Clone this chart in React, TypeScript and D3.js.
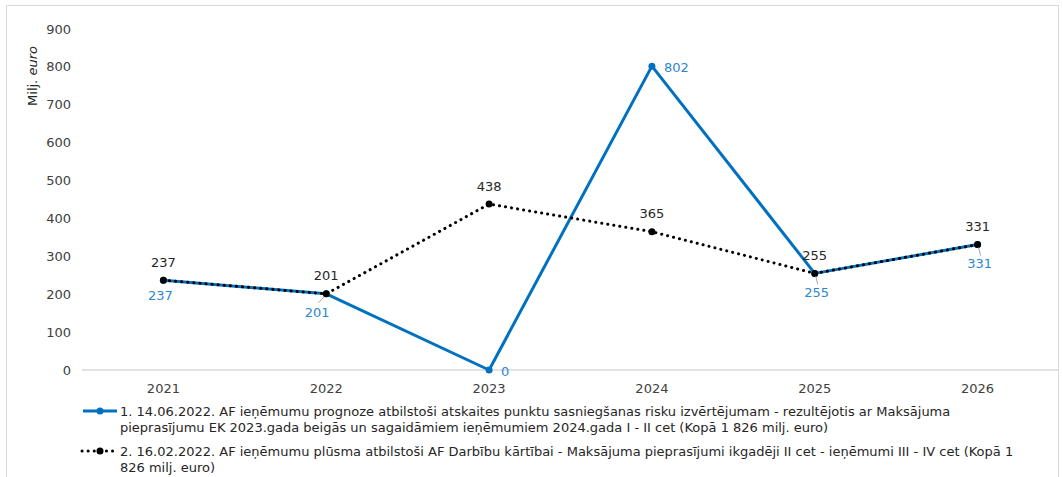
import { useRef, useEffect, RefObject } from 'react';
import * as d3 from 'd3';

const years: string[] = ['2021', '2022', '2023', '2024', '2025', '2026'];
const series1: number[] = [237, 201, 0, 802, 255, 331];
const series2: number[] = [237, 201, 438, 365, 255, 331];
const yTicks: number[] = [0, 100, 200, 300, 400, 500, 600, 700, 800, 900];
const legend1: string[] = [
  '1. 14.06.2022. AF ieņēmumu prognoze atbilstoši atskaites punktu sasniegšanas risku izvērtējumam - rezultējotis ar Maksājuma',
  'pieprasījumu EK 2023.gada beigās un sagaidāmiem ieņēmumiem 2024.gada I - II cet (Kopā 1 826 milj. euro)',
];
const legend2: string[] = [
  '2. 16.02.2022. AF ieņēmumu plūsma atbilstoši AF Darbību kārtībai - Maksājuma pieprasījumi ikgadēji II cet - ieņēmumi III - IV cet (Kopā 1',
  '826 milj. euro)',
];
// label placement for series 1: 'below' or 'right'
const labelPos1: string[] = ['below', 'below', 'right', 'right', 'below', 'below'];

const App = () => {
  const svgRef: RefObject<SVGSVGElement> = useRef(null);

  useEffect(() => {
    const width = 1063;
    const height = 477;
    const blue = '#0070C0';
    const blueText = '#2E86CF';
    const font = '"DejaVu Sans", Verdana, sans-serif';

    const svg = d3
      .select(svgRef.current)
      .attr('width', width)
      .attr('height', height)
      .style('font-family', font);
    svg.selectAll('*').remove();

    svg
      .append('rect')
      .attr('x', 6.5)
      .attr('y', 5.5)
      .attr('width', 1052)
      .attr('height', 490)
      .attr('fill', 'white')
      .attr('stroke', '#d9d9d9');

    const x = d3.scaleBand().domain(years).range([82, 1059]);
    const y = d3.scaleLinear().domain([0, 900]).range([370, 29]);
    const cx = (d: string) => (x(d) as number) + x.bandwidth() / 2;

    // baseline
    svg
      .append('line')
      .attr('x1', 82)
      .attr('x2', 1059)
      .attr('y1', y(0))
      .attr('y2', y(0))
      .attr('stroke', '#d9d9d9')
      .attr('stroke-width', 1.5);

    // y ticks
    svg
      .append('g')
      .selectAll('text')
      .data(yTicks)
      .join('text')
      .attr('x', 71)
      .attr('y', (d) => y(d))
      .attr('dy', '0.35em')
      .attr('text-anchor', 'end')
      .attr('font-size', 13)
      .attr('fill', '#404040')
      .text((d) => d);

    // x labels
    svg
      .append('g')
      .selectAll('text')
      .data(years)
      .join('text')
      .attr('x', (d) => cx(d))
      .attr('y', 388)
      .attr('dy', '0.35em')
      .attr('text-anchor', 'middle')
      .attr('font-size', 13)
      .attr('fill', '#404040')
      .text((d) => d);

    // y title
    const title = svg
      .append('text')
      .attr('transform', 'translate(37,76) rotate(-90)')
      .attr('text-anchor', 'middle')
      .attr('font-size', 13)
      .attr('fill', '#262626');
    title.append('tspan').text('Milj. ');
    title.append('tspan').attr('font-style', 'italic').text('euro');

    const line = d3
      .line<number>()
      .x((_, i) => cx(years[i]))
      .y((d) => y(d));

    // series 1 (blue)
    svg
      .append('path')
      .datum(series1)
      .attr('d', line)
      .attr('fill', 'none')
      .attr('stroke', blue)
      .attr('stroke-width', 3)
      .attr('stroke-linejoin', 'round');
    svg
      .append('g')
      .selectAll('circle')
      .data(series1)
      .join('circle')
      .attr('cx', (_, i) => cx(years[i]))
      .attr('cy', (d) => y(d))
      .attr('r', 3.5)
      .attr('fill', blue);

    // series 2 (black dotted)
    svg
      .append('path')
      .datum(series2)
      .attr('d', line)
      .attr('fill', 'none')
      .attr('stroke', '#000')
      .attr('stroke-width', 3)
      .attr('stroke-linecap', 'round')
      .attr('stroke-dasharray', '0.1 6');
    svg
      .append('g')
      .selectAll('circle')
      .data(series2)
      .join('circle')
      .attr('cx', (_, i) => cx(years[i]))
      .attr('cy', (d) => y(d))
      .attr('r', 3.5)
      .attr('fill', '#000');

    // leader lines for blue labels
    svg
      .append('g')
      .selectAll('line')
      .data(series1.map((v, i) => ({ v, i })).filter((d) => d.i >= 1 && labelPos1[d.i] === 'below'))
      .join('line')
      .attr('x1', (d) => cx(years[d.i]) + (d.i === 1 ? -2 : 1))
      .attr('y1', (d) => y(d.v) + 3)
      .attr('x2', (d) => cx(years[d.i]) + (d.i === 1 ? -8 : 3))
      .attr('y2', (d) => y(d.v) + (d.i === 1 ? 9 : 11))
      .attr('stroke', '#a6a6a6')
      .attr('stroke-width', 1);

    // blue labels
    svg
      .append('g')
      .selectAll('text')
      .data(series1)
      .join('text')
      .attr('x', (_, i) => (labelPos1[i] === 'right' ? cx(years[i]) + 12 : cx(years[i]) + (i === 1 ? -9 : i === 0 ? -3 : 2)))
      .attr('y', (d, i) => (labelPos1[i] === 'right' ? y(d) + 1 : y(d) + (i === 0 ? 15 : 19)))
      .attr('dy', '0.35em')
      .attr('text-anchor', (_, i) => (labelPos1[i] === 'right' ? 'start' : 'middle'))
      .attr('font-size', 13)
      .attr('fill', blueText)
      .text((d) => d);

    // black labels
    svg
      .append('g')
      .selectAll('text')
      .data(series2)
      .join('text')
      .attr('x', (_, i) => cx(years[i]))
      .attr('y', (d) => y(d) - 18)
      .attr('dy', '0.35em')
      .attr('text-anchor', 'middle')
      .attr('font-size', 13)
      .attr('fill', '#262626')
      .text((d) => d);

    // legend
    const lg = svg.append('g').attr('font-size', 13).attr('fill', '#262626');
    lg.append('line')
      .attr('x1', 83).attr('x2', 117).attr('y1', 411).attr('y2', 411)
      .attr('stroke', blue).attr('stroke-width', 3);
    lg.append('circle').attr('cx', 100).attr('cy', 411).attr('r', 3.5).attr('fill', blue);
    lg.append('line')
      .attr('x1', 82).attr('x2', 118).attr('y1', 451).attr('y2', 451)
      .attr('stroke', '#000').attr('stroke-width', 3)
      .attr('stroke-linecap', 'round').attr('stroke-dasharray', '0.1 6');
    lg.append('circle').attr('cx', 100).attr('cy', 451).attr('r', 3.5).attr('fill', '#000');

    lg.selectAll('text.l1')
      .data(legend1)
      .join('text')
      .attr('class', 'l1')
      .attr('x', 120)
      .attr('y', (_, i) => 411 + i * 16)
      .attr('dy', '0.35em')
      .text((d) => d);
    lg.selectAll('text.l2')
      .data(legend2)
      .join('text')
      .attr('class', 'l2')
      .attr('x', 120)
      .attr('y', (_, i) => 451 + i * 16)
      .attr('dy', '0.35em')
      .text((d) => d);
  }, []);

  return (
    <div style={{ position: 'absolute', left: 0, top: 0 }}>
      <svg ref={svgRef} style={{ display: 'block' }}></svg>
    </div>
  );
};

export default App;
